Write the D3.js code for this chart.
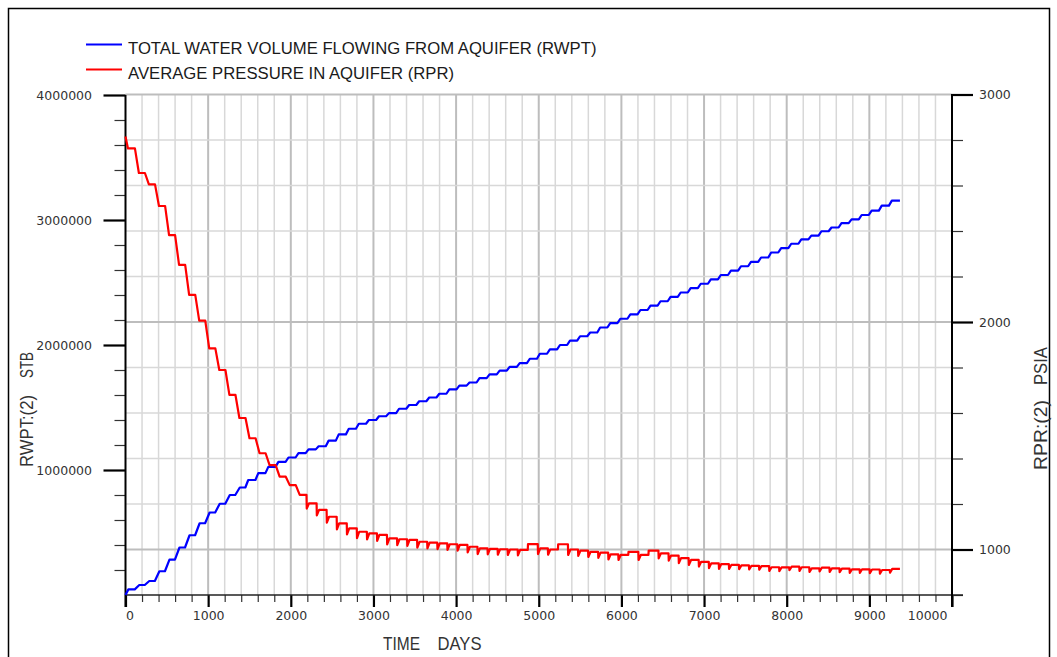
<!DOCTYPE html>
<html>
<head>
<meta charset="utf-8">
<script src="https://cdn.jsdelivr.net/npm/d3@7"></script>
<style>
  html, body { margin: 0; padding: 0; background: #fff; }
  svg { display: block; }
</style>
</head>
<body>
<svg id="chart" width="1057" height="657"></svg>
<script>
// Report step times (days) – one value every four months
const stepDays = [
  0, 122, 243, 365, 487, 608, 730, 852, 973, 1095,
  1217, 1338, 1460, 1582, 1703, 1825, 1947, 2068, 2190, 2312,
  2433, 2555, 2677, 2798, 2920, 3042, 3163, 3285, 3407, 3528,
  3650, 3772, 3893, 4015, 4137, 4258, 4380, 4502, 4623, 4745,
  4867, 4988, 5110, 5232, 5353, 5475, 5597, 5718, 5840, 5962,
  6083, 6205, 6327, 6448, 6570, 6692, 6813, 6935, 7057, 7178,
  7300, 7422, 7543, 7665, 7787, 7908, 8030, 8152, 8273, 8395,
  8517, 8638, 8760, 8882, 9003, 9125, 9247
];
const endDay = 9370;

// RWPT – cumulative water volume from the aquifer (STB), per step
const rwpt = [
  45000, 80000, 112000, 190000, 283000, 380000, 478000, 574000, 660000, 730000,
  800000, 860000, 920000, 975000, 1025000, 1065000, 1100000, 1135000, 1165000, 1190000,
  1235000, 1285000, 1330000, 1370000, 1400000, 1430000, 1455000, 1490000, 1520000, 1550000,
  1580000, 1610000, 1645000, 1675000, 1700000, 1735000, 1765000, 1795000, 1825000, 1855000,
  1890000, 1930000, 1965000, 2000000, 2035000, 2070000, 2100000, 2140000, 2175000, 2210000,
  2245000, 2280000, 2315000, 2350000, 2385000, 2420000, 2455000, 2490000, 2525000, 2560000,
  2595000, 2630000, 2665000, 2700000, 2740000, 2775000, 2810000, 2845000, 2875000, 2910000,
  2940000, 2975000, 3005000, 3040000, 3075000, 3115000, 3155000
];

// RPR – average aquifer pressure (PSIA), plateau after each step
const rprStart = 2815;
const rpr = [
  2763, 2655, 2605, 2510, 2382, 2251, 2119, 2006, 1884, 1789,
  1680, 1578, 1489, 1423, 1371, 1320, 1283, 1240, 1203, 1174,
  1144, 1115, 1093, 1078, 1071, 1064, 1049, 1045, 1042, 1034,
  1030, 1027, 1023, 1020, 1012, 1005, 1003, 1001, 1000, 998,
  1024, 1005, 1000, 1023, 1000, 995, 990, 986, 979, 976,
  990, 976, 995, 983, 973, 962, 954, 946, 939, 936,
  932, 930, 928, 927, 922, 921, 925, 922, 917, 920,
  917, 916, 913, 913, 912, 910, 915
];
// RPR – momentary low right at each step (null where the step has no dip)
const rprDip = [
  null, null, null, null, null, null, null, null, null, null,
  null, null, null, null, null, null, null, null, 1180, 1150,
  1118, 1088, 1066, 1050, 1044, 1038, 1022, 1019, 1016, 1008,
  1005, 1002, 998, 995, 987, 980, 979, 977, 976, 974,
  null, 980, 977, null, 976, 972, 967, 963, 956, 954,
  null, 954, null, 961, 951, 940, 932, 925, 918, 915,
  915, 914, 912, 911, 906, 905, 909, 906, 901, 904,
  901, 900, 897, 897, 896, 894, 898
];

const xMajorTicks = [0, 1000, 2000, 3000, 4000, 5000, 6000, 7000, 8000, 9000, 10000];
const leftMajorTicks = [1000000, 2000000, 3000000, 4000000];
const rightMajorTicks = [1000, 2000, 3000];
const seriesNames = [
  "TOTAL WATER VOLUME FLOWING FROM AQUIFER (RWPT)",
  "AVERAGE PRESSURE IN AQUIFER (RPR)"
];
const seriesColors = ["#0000ff", "#ff0000"];

const svg = d3.select("#chart");

// scales
const x = d3.scaleLinear().domain([0, 10000]).range([125.5, 952]);
const yL = d3.scaleLinear().domain([0, 4000000]).range([595, 95]);
const yR = d3.scaleLinear().domain([800, 3000]).range([595, 94.5]);

// outer frame
svg.append("path")
  .attr("d", "M8.5,700 V8.5 H1049.5 V700")
  .attr("fill", "none").attr("stroke", "#000").attr("stroke-width", 1.5);

// grid
const xMinor = d3.range(200, 10000, 200);
const yMinor = d3.range(1000, 3001, 200);
const grid = svg.append("g");
grid.selectAll("line.v").data(xMinor).join("line")
  .attr("x1", d => x(d)).attr("x2", d => x(d))
  .attr("y1", yR(3000)).attr("y2", yR(800))
  .attr("stroke", d => d % 1000 === 0 ? "#bdbdbd" : "#d8d8d8")
  .attr("stroke-width", d => d % 1000 === 0 ? 2 : 1.5);
grid.selectAll("line.h").data(yMinor).join("line")
  .attr("x1", x(0)).attr("x2", x(10000))
  .attr("y1", d => yR(d)).attr("y2", d => yR(d))
  .attr("stroke", d => d % 1000 === 0 ? "#bdbdbd" : "#d8d8d8")
  .attr("stroke-width", d => d % 1000 === 0 ? 2 : 1.5);

const tickFont = "'DejaVu Sans', Verdana, sans-serif";
function styleAxis(g, width, color) {
  g.select(".domain").remove();
  g.selectAll(".tick line").attr("stroke", color).attr("stroke-width", width);
  g.selectAll(".tick text")
    .attr("font-family", tickFont).attr("font-size", 12.5).attr("fill", "#333");
}

// bottom axis
svg.append("g").attr("transform", "translate(0,595)")
  .call(d3.axisBottom(x).tickValues(xMinor.filter(d => d % 1000 !== 0)).tickSize(7).tickFormat(""))
  .call(g => styleAxis(g, 1.2, "#333"));
const xMaj = svg.append("g").attr("transform", "translate(0,595)")
  .call(d3.axisBottom(x).tickValues(xMajorTicks).tickSize(12).tickPadding(4).tickFormat(d3.format("d")))
  .call(g => styleAxis(g, 2.2, "#000"));
xMaj.selectAll(".tick text").filter(d => d === 0).attr("text-anchor", "start");
xMaj.selectAll(".tick text").filter(d => d === 10000).attr("text-anchor", "end").attr("dx", -5);

// left axis
svg.append("g").attr("transform", "translate(125.5,0)")
  .call(d3.axisLeft(yL).tickValues(d3.range(200000, 4000001, 200000).filter(d => d % 1000000 !== 0)).tickSize(11).tickFormat(""))
  .call(g => styleAxis(g, 1.2, "#333"));
svg.append("g").attr("transform", "translate(125.5,0)")
  .call(d3.axisLeft(yL).tickValues(leftMajorTicks).tickSize(22).tickPadding(11.5).tickFormat(d3.format("d")))
  .call(g => styleAxis(g, 2.2, "#000"));

// right axis
svg.append("g").attr("transform", "translate(952,0)")
  .call(d3.axisRight(yR).tickValues(d3.range(800, 3001, 200).filter(d => d % 1000 !== 0)).tickSize(11).tickFormat(""))
  .call(g => styleAxis(g, 1.2, "#333"));
svg.append("g").attr("transform", "translate(952,0)")
  .call(d3.axisRight(yR).tickValues(rightMajorTicks).tickSize(21).tickPadding(6).tickFormat(d3.format("d")))
  .call(g => styleAxis(g, 2.2, "#000"));

// axis lines
svg.append("line").attr("x1", x(0)).attr("x2", 963).attr("y1", 595).attr("y2", 595)
  .attr("stroke", "#222").attr("stroke-width", 1.6);
svg.append("line").attr("x1", x(0)).attr("x2", x(0)).attr("y1", 95).attr("y2", 607)
  .attr("stroke", "#000").attr("stroke-width", 2);
svg.append("line").attr("x1", x(10000)).attr("x2", x(10000)).attr("y1", 94).attr("y2", 607)
  .attr("stroke", "#000").attr("stroke-width", 2);

// RWPT staircase
const bluePts = [[0, 0], [35, rwpt[0]]];
for (let i = 1; i < rwpt.length; i++) {
  const d = stepDays[i];
  bluePts.push([d - 10, rwpt[i - 1]], [d + (i < 12 ? 45 : 25), rwpt[i]]);
}
bluePts.push([endDay, rwpt[rwpt.length - 1]]);

// RPR staircase with dips
const redPts = [[0, rprStart], [30, rpr[0]]];
for (let i = 1; i < rpr.length; i++) {
  const d = stepDays[i], prev = rpr[i - 1], cur = rpr[i], dip = rprDip[i];
  if (dip !== null) redPts.push([d, prev], [d + 3, dip], [d + 30, cur]);
  else if (cur < prev) redPts.push([d - 8, prev], [d + 40, cur]);
  else redPts.push([d, prev], [d + 3, cur]);
}
redPts.push([endDay, rpr[rpr.length - 1]]);

svg.append("path").datum(bluePts)
  .attr("d", d3.line().x(d => x(d[0])).y(d => yL(d[1])))
  .attr("fill", "none").attr("stroke", seriesColors[0]).attr("stroke-width", 2.2)
  .attr("stroke-linejoin", "round");
svg.append("path").datum(redPts)
  .attr("d", d3.line().x(d => x(d[0])).y(d => yR(d[1])))
  .attr("fill", "none").attr("stroke", seriesColors[1]).attr("stroke-width", 2.2)
  .attr("stroke-linejoin", "round");

// legend
const legendFont = "'Liberation Sans', Arial, sans-serif";
seriesNames.forEach((name, i) => {
  const ly = 44.5 + i * 25;
  svg.append("line").attr("x1", 86).attr("x2", 122).attr("y1", ly).attr("y2", ly)
    .attr("stroke", seriesColors[i]).attr("stroke-width", 2);
  svg.append("text").attr("x", 128).attr("y", ly + 9)
    .attr("font-family", legendFont).attr("font-size", 16.7).attr("fill", "#1a1a1a")
    .text(name);
});

// axis titles
function title(txt, tx, ty, rot, len) {
  svg.append("text")
    .attr("transform", `translate(${tx},${ty})` + (rot ? " rotate(-90)" : ""))
    .attr("font-family", legendFont).attr("font-size", 18).attr("fill", "#333")
    .attr("textLength", len).attr("lengthAdjust", "spacingAndGlyphs")
    .text(txt);
}
title("TIME", 383, 650, false, 37);
title("DAYS", 437.5, 650, false, 44);
title("RWPT:(2)", 32.5, 467, true, 72);
title("STB", 32.5, 378, true, 26);
title("RPR:(2)", 1046.5, 470, true, 70);
title("PSIA", 1046.5, 385, true, 38);
</script>
</body>
</html>
